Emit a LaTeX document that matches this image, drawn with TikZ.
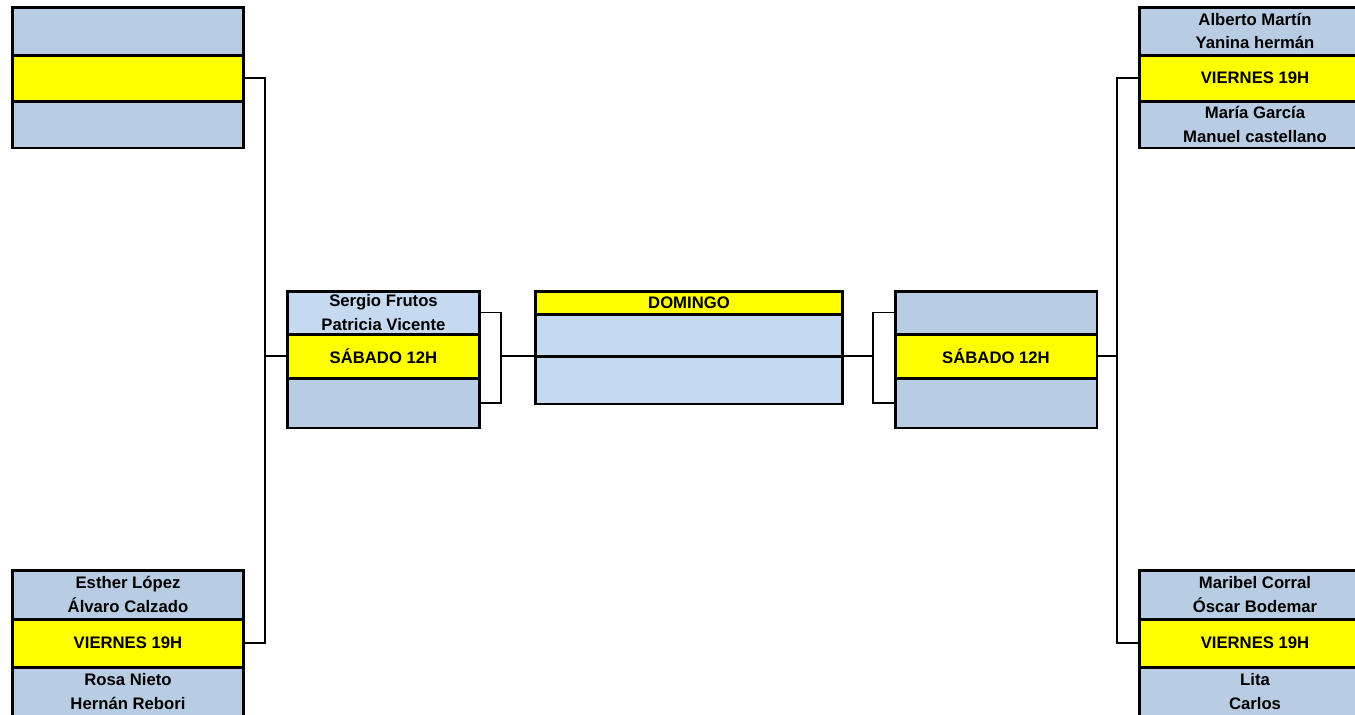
\documentclass[tikz,border=0pt]{standalone}
\usepackage{fontspec}
\setmainfont{Liberation Sans}
\definecolor{rowblue}{HTML}{B8CCE4}
\definecolor{rowpale}{HTML}{C5D9F1}
\definecolor{dayyellow}{HTML}{FFFF00}

\begin{document}
\begin{tikzpicture}[x=0.02cm, y=-0.02cm, font=\bfseries\fontsize{9.5}{13.6}\selectfont,
	cell/.style={draw, line width=1.7pt, inner sep=0pt, outer sep=0pt, align=center, fill=rowblue},
	outer/.style={cell, minimum width=4.64cm},
	semi/.style={cell, minimum width=3.86cm},
	day/.style={fill=dayyellow},
	link/.style={line width=1.1pt}]
	\useasboundingbox (0,0) rectangle (1355,714);
	% first round, left
	\node[outer, minimum height=0.96cm] (tl1) at (128,31) {};
	\node[outer, day, minimum height=0.92cm] (tl2) at (128,78) {};
	\node[outer, minimum height=0.94cm] (tl3) at (128,124.5) {};
	\node[outer, minimum height=0.98cm] (bl1) at (128,594.5) {Esther López\\Álvaro Calzado};
	\node[outer, day, minimum height=0.96cm] (bl2) at (128,643) {VIERNES 19H};
	\node[outer, minimum height=0.98cm] (bl3) at (128,691.5) {Rosa Nieto\\Hernán Rebori};
	% first round, right
	\node[outer, minimum height=0.96cm] (tr1) at (1255,31) {Alberto Martín\\Yanina hermán};
	\node[outer, day, minimum height=0.92cm] (tr2) at (1255,78) {VIERNES 19H};
	\node[outer, minimum height=0.94cm] (tr3) at (1255,124.5) {María García\\Manuel castellano};
	\node[outer, minimum height=0.98cm] (br1) at (1255,594.5) {Maribel Corral\\Óscar Bodemar};
	\node[outer, day, minimum height=0.96cm] (br2) at (1255,643) {VIERNES 19H};
	\node[outer, minimum height=0.98cm] (br3) at (1255,691.5) {Lita\\Carlos};
	% semifinals
	\node[semi, fill=rowpale, minimum height=0.86cm] (ml1) at (383.5,312.5) {Sergio Frutos\\Patricia Vicente};
	\node[semi, day, minimum height=0.88cm] (ml2) at (383.5,356) {SÁBADO 12H};
	\node[semi, minimum height=1cm] (ml3) at (383.5,403) {};
	\node[cell, minimum width=4.04cm, minimum height=0.86cm] (mr1) at (996,312.5) {};
	\node[cell, day, minimum width=4.04cm, minimum height=0.88cm] (mr2) at (996,356) {SÁBADO 12H};
	\node[cell, minimum width=4.04cm, minimum height=1cm] (mr3) at (996,403) {};
	% final
	\node[cell, day, minimum width=6.16cm, minimum height=0.46cm] (cd) at (689,302.5) {DOMINGO};
	\node[cell, fill=rowpale, minimum width=6.16cm, minimum height=0.84cm] (c1) at (689,335) {};
	\node[cell, fill=rowpale, minimum width=6.16cm, minimum height=0.96cm] (c2) at (689,380) {};
	% brackets
	\coordinate (jl) at (265,356);
	\coordinate (jm) at (501,356);
	\coordinate (jr) at (873,356);
	\coordinate (jrr) at (1117,356);
	\draw[link] (tl2.east) -| (jl) |- (bl2.east);
	\draw[link] (jl) -- (ml2.west);
	\draw[link] (ml1.east) -| (jm) |- (ml3.east);
	\draw[link] (jm) -- (c1.south west);
	\draw[link] (c1.south east) -- (jr);
	\draw[link] (mr1.west) -| (jr) |- (mr3.west);
	\draw[link] (mr2.east) -- (jrr);
	\draw[link] (tr2.west) -| (jrr) |- (br2.west);
\end{tikzpicture}
\end{document}
